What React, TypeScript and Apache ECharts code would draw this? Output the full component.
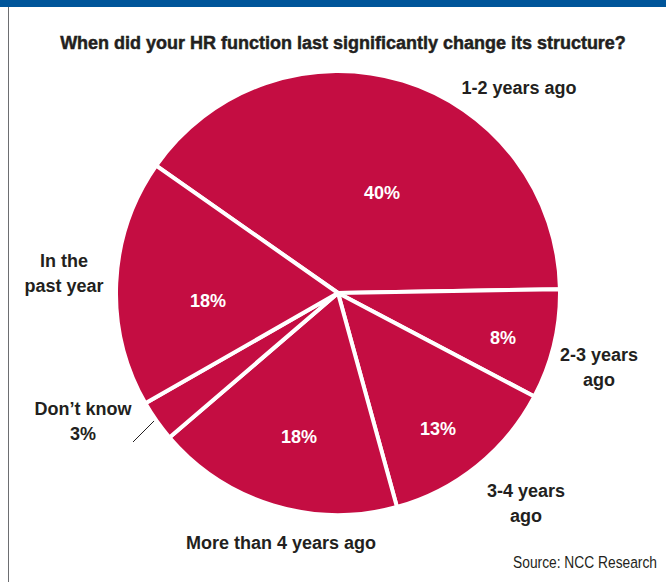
import React, { useEffect, useRef } from "react";
import * as echarts from "echarts";

const TITLE = "When did your HR function last significantly change its structure?";
const SOURCE = "Source: NCC Research";
const categories = ["1-2 years ago", "2-3 years ago", "3-4 years ago", "More than 4 years ago", "Don’t know", "In the past year"];
const nameLabels = ["1-2 years ago", "2-3 years\nago", "3-4 years\nago", "More than 4 years ago", "Don’t know\n3%", "In the\npast year"];
const values = [40, 8, 13, 18, 3, 18];
const showPct = [true, true, true, true, false, true];

// label anchor positions (layout only)
const PCT_POS = [[382, 193], [503, 338], [438, 429], [299, 437], [0, 0], [208, 301]];
const NAME_POS = [[519, 88], [599, 367], [526, 503], [281, 543], [83, 421], [64, 273]];

const FONT = "'Liberation Sans', Arial, sans-serif";
const CRIMSON = "#c40d42";
const DARK = "#231f20";

function measure(text: string, font: string): number {
  const c = document.createElement("canvas").getContext("2d");
  if (!c) return 0;
  c.font = font;
  return c.measureText(text).width;
}

export default function App() {
  const ref = useRef<HTMLDivElement>(null);
  useEffect(() => {
    const chart = echarts.init(ref.current!, null, { renderer: "svg" });
    const data = categories.map((c, i) => ({ name: c, value: values[i] }));
    const tw = measure(TITLE, "bold 19px 'Liberation Sans'") || 620;
    const sw = measure(SOURCE, "17px 'Liberation Sans'") || 178;
    chart.setOption({
      animation: false,
      backgroundColor: "#ffffff",
      graphic: [
        { type: "rect", shape: { x: 0, y: 0, width: 666, height: 7 }, style: { fill: "#00559a" } },
        { type: "line", shape: { x1: 8.5, y1: 7, x2: 8.5, y2: 582 }, style: { stroke: "#6d6e71", lineWidth: 1 } },
        { type: "line", shape: { x1: 133, y1: 442, x2: 168, y2: 407 }, style: { stroke: DARK, lineWidth: 1 } },
        {
          type: "text",
          x: 343,
          y: 42,
          scaleX: 566 / tw,
          style: {
            text: TITLE,
            font: "bold 19px 'Liberation Sans', Arial, sans-serif",
            fill: DARK,
            stroke: DARK,
            lineWidth: 0.5,
            align: "center",
            verticalAlign: "middle",
          },
        },
        {
          type: "text",
          x: 657,
          y: 562,
          scaleX: 144 / sw,
          style: {
            text: SOURCE,
            font: "17px 'Liberation Sans', Arial, sans-serif",
            fill: DARK,
            align: "right",
            verticalAlign: "middle",
          },
        },
      ],
      series: [
        {
          type: "pie",
          center: [338, 293],
          radius: 222,
          startAngle: 145,
          clockwise: true,
          silent: true,
          itemStyle: { color: CRIMSON, borderColor: "#ffffff", borderWidth: 4 },
          label: {
            show: true,
            position: "inside",
            formatter: (p: any) => (showPct[p.dataIndex] ? p.value + "%" : ""),
            color: "#ffffff",
            fontFamily: FONT,
            fontWeight: "bold",
            fontSize: 18,
          },
          labelLine: { show: false },
          labelLayout: (p: any) => ({
            x: PCT_POS[p.dataIndex][0],
            y: PCT_POS[p.dataIndex][1],
            align: "center",
            verticalAlign: "middle",
          }),
          data,
        },
        {
          type: "pie",
          center: [338, 293],
          radius: 222,
          startAngle: 145,
          clockwise: true,
          silent: true,
          itemStyle: { color: "rgba(0,0,0,0)", borderWidth: 0 },
          label: {
            show: true,
            position: "inside",
            formatter: (p: any) => nameLabels[p.dataIndex],
            color: DARK,
            fontFamily: FONT,
            fontWeight: "bold",
            fontSize: 18,
            lineHeight: 25,
            align: "center",
          },
          labelLine: { show: false },
          labelLayout: (p: any) => ({
            x: NAME_POS[p.dataIndex][0],
            y: NAME_POS[p.dataIndex][1],
            align: "center",
            verticalAlign: "middle",
          }),
          data,
        },
      ],
    });
    return () => chart.dispose();
  }, []);
  return (
    <div
      ref={ref}
      style={{ position: "fixed", left: 0, top: 0, width: 666, height: 582 }}
    />
  );
}
